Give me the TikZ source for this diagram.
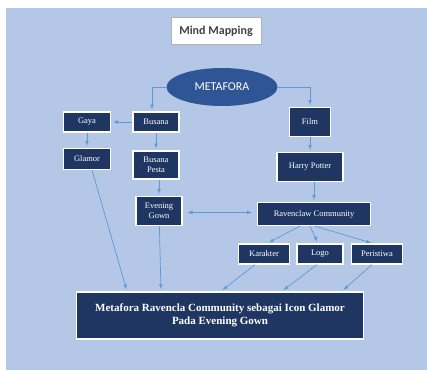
\documentclass[tikz,border=0pt]{standalone}
\usepackage{fontspec}
\setmainfont{Liberation Serif}
\newfontfamily\calibri{Carlito}
\usetikzlibrary{shapes.geometric}
\definecolor{bgblue}{RGB}{180,199,231}
\definecolor{boxnavy}{RGB}{31,54,98}
\definecolor{ovalblue}{RGB}{47,85,151}
\definecolor{linkblue}{RGB}{91,155,213}
\tikzset{
  box/.style={draw=white, line width=1.2pt, fill=boxnavy, text=white, align=center,
    inner sep=1pt, font=\fontsize{8.5}{10}\selectfont},
  conn/.style={->, >=latex, draw=linkblue, line width=0.7pt, shorten >=2pt}
}
\begin{document}
\begin{tikzpicture}[x=1pt,y=-1pt]
                    \useasboundingbox (0,0) rectangle (427,370);
                    \fill [bgblue] (6,8) rectangle (427,370);
                    \node [draw=black!30, fill=white, line width=0.6pt, minimum width=90, minimum height=27,
                        text=black!75, font=\calibri\bfseries\fontsize{12}{14}\selectfont] (mindmap) at (216,31) {Mind Mapping};
                    \node [ellipse, fill=ovalblue, minimum width=111, minimum height=38, inner sep=0pt,
                        text=white, font=\calibri\fontsize{12}{14}\selectfont] (metafora) at (222,87) {METAFORA};
                    \node [box, minimum width=47, minimum height=20] (gaya) at (87,122) {Gaya};
                    \node [box, minimum width=46, minimum height=20] (busana) at (156,122) {Busana};
                    \node [box, minimum width=47, minimum height=21] (glamor) at (87,159) {Glamor};
                    \node [box, minimum width=46, minimum height=28] (pesta) at (156,165) {Busana\\Pesta};
                    \node [box, minimum width=46, minimum height=29] (gown) at (159,211) {Evening\\Gown};
                    \node [box, minimum width=41, minimum height=29] (film) at (310,122) {Film};
                    \node [box, minimum width=66, minimum height=29] (harry) at (310,167) {Harry Potter};
                    \node [box, minimum width=113, minimum height=23] (ravenclaw) at (314,214) {Ravenclaw Community};
                    \node [box, minimum width=51, minimum height=20] (karakter) at (264,254) {Karakter};
                    \node [box, minimum width=46, minimum height=20] (logo) at (320,254) {Logo};
                    \node [box, minimum width=51, minimum height=20] (peristiwa) at (377,254) {Peristiwa};
                    \node [box, line width=1.6pt, minimum width=287, minimum height=47,
                        font=\bfseries\fontsize{11}{13}\selectfont] (result) at (220,315.5)
                        {Metafora Ravencla Community sebagai Icon Glamor\\Pada Evening Gown};
                    \draw [conn] (metafora) -| ([xshift=-4]busana.north);
                    \draw [conn] (metafora) -| (film);
                    \draw [conn] (busana) -- (gaya);
                    \draw [conn] (gaya) -- (glamor);
                    \draw [conn] (busana) -- (pesta);
                    \draw [conn] ([xshift=3]pesta.south) -- (gown);
                    \draw [conn] (film) -- (harry);
                    \draw [conn] ([xshift=4]harry.south) -- (ravenclaw);
                    \draw [conn, <->, shorten <=5pt, shorten >=5pt] ([yshift=-1.5]gown.east) -- ([yshift=1.5]ravenclaw.west);
                    \draw [conn] ([xshift=-14]ravenclaw.south) -- ([xshift=3]karakter.north);
                    \draw [conn] ([xshift=-4]ravenclaw.south) -- ([xshift=-2]logo.north);
                    \draw [conn] ([xshift=1]ravenclaw.south) -- ([xshift=-4]peristiwa.north);
                    \draw [conn] ([xshift=5]glamor.south) -- ([xshift=-93]result.north);
                    \draw [conn] (gown) -- ([xshift=-59]result.north);
                    \draw [conn] ([xshift=-9]karakter.south) -- ([xshift=1]result.north);
                    \draw [conn] ([xshift=-3]logo.south) -- ([xshift=62]result.north);
                    \draw [conn] ([xshift=-5]peristiwa.south) -- ([xshift=122]result.north);
                \end{tikzpicture}
\end{document}
